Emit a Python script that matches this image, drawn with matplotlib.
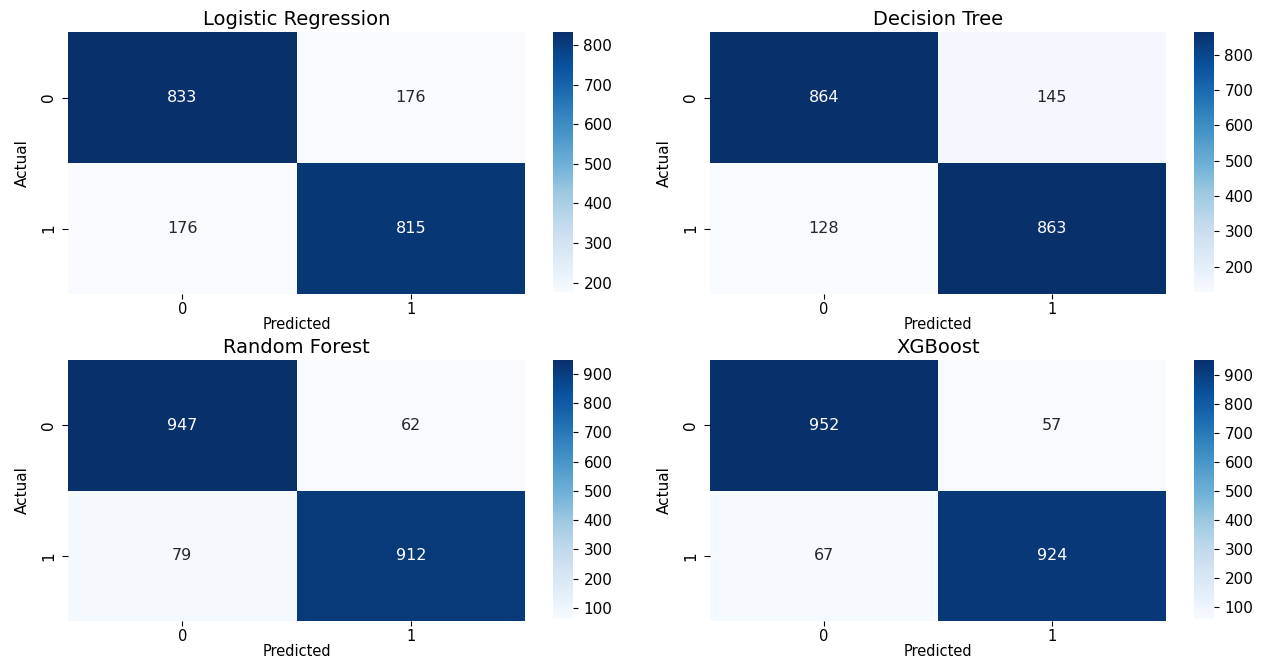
import numpy as np
import matplotlib
matplotlib.use("Agg")
import matplotlib.pyplot as plt
from matplotlib.ticker import MultipleLocator
import seaborn as sns

# Confusion matrices per model (rows: actual, cols: predicted)
models = ["Logistic Regression", "Decision Tree", "Random Forest", "XGBoost"]
cm_logistic = [[833, 176], [176, 815]]
cm_tree = [[864, 145], [128, 863]]
cm_forest = [[947, 62], [79, 912]]
cm_xgb = [[952, 57], [67, 924]]
matrices = [cm_logistic, cm_tree, cm_forest, cm_xgb]
class_labels = ["0", "1"]

W, H = 1265, 658
fig = plt.figure(figsize=(W / 100, H / 100), dpi=100)

# pixel boxes (left, top, right, bottom) for heatmap and colorbar
hm_x = [(68, 525), (710, 1166)]
cb_x = [(553, 573), (1194, 1214)]
rows_y = [(32, 294), (360, 621)]

def box(x0, y0, x1, y1):
    return [x0 / W, 1 - y1 / H, (x1 - x0) / W, (y1 - y0) / H]

for i, (name, cm) in enumerate(zip(models, matrices)):
    r, c = divmod(i, 2)
    y0, y1 = rows_y[r]
    ax = fig.add_axes(box(hm_x[c][0], y0, hm_x[c][1], y1))
    cax = fig.add_axes(box(cb_x[c][0], y0, cb_x[c][1], y1 - 2))
    sns.heatmap(np.array(cm), annot=True, fmt="d", cmap="Blues", ax=ax,
                cbar_ax=cax, xticklabels=class_labels, yticklabels=class_labels,
                annot_kws={"fontsize": 11.5})
    ax.set_title(name, fontsize=14, pad=5)
    ax.set_xlabel("Predicted", fontsize=10.5, labelpad=0)
    ax.set_ylabel("Actual", fontsize=11, labelpad=8)
    ax.tick_params(axis="x", labelsize=10.5, length=3.5, pad=2)
    ax.tick_params(axis="y", labelsize=11, length=4.5, pad=4)
    cax.yaxis.set_major_locator(MultipleLocator(100))
    cax.tick_params(labelsize=11, length=3.5, pad=4)
    cax.set_frame_on(False)

fig.savefig("out.png", dpi=100)
